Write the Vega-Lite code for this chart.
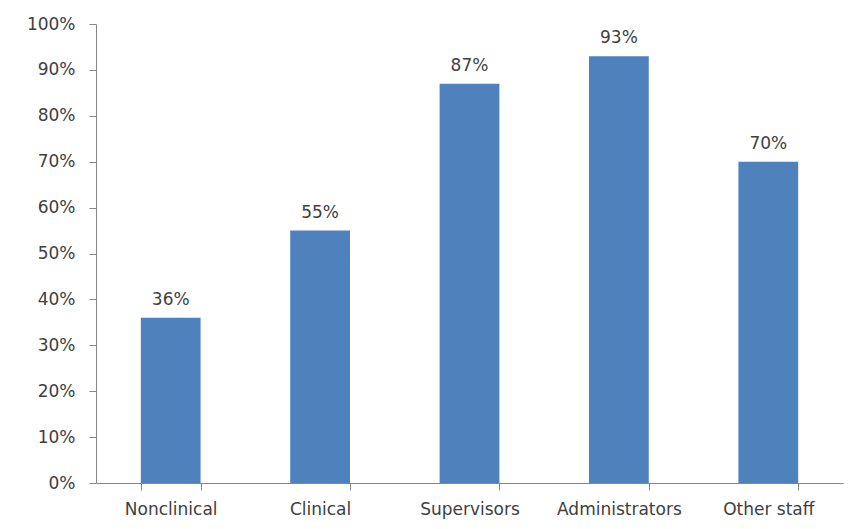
{
  "$schema": "https://vega.github.io/schema/vega-lite/v6.json",
  "width": 747,
  "height": 459,
  "autosize": {"type": "none"},
  "padding": {"left": 96, "top": 24, "right": 13, "bottom": 46},
  "background": "white",
  "config": {
    "view": {"stroke": null},
    "font": "DejaVu Sans",
    "axis": {"labelFont": "DejaVu Sans", "labelFontSize": 17, "labelColor": "#404040", "domainColor": "#868686", "tickColor": "#868686", "grid": false, "title": null}
  },
  "data": {"values": [
    {"group": "Nonclinical", "pct": 0.36},
    {"group": "Clinical", "pct": 0.55},
    {"group": "Supervisors", "pct": 0.87},
    {"group": "Administrators", "pct": 0.93},
    {"group": "Other staff", "pct": 0.70}
  ]},
  "encoding": {
    "x": {"field": "group", "type": "nominal", "sort": null,
      "scale": {"paddingInner": 0.6, "paddingOuter": 0.3},
      "axis": {"labelAngle": 0, "tickSize": 7, "tickBand": "extent", "labelPadding": 11, "labelBaseline": "top"}},
    "y": {"field": "pct", "type": "quantitative",
      "scale": {"domain": [0, 1], "nice": false},
      "axis": {"format": ".0%", "values": [0,0.1,0.2,0.3,0.4,0.5,0.6,0.7,0.8,0.9,1], "tickSize": 7, "labelPadding": 14}}
  },
  "layer": [
    {"mark": {"type": "bar", "color": "#4F81BD"}},
    {"mark": {"type": "text", "baseline": "alphabetic", "dy": -13, "fontSize": 17, "color": "#404040", "font": "DejaVu Sans"},
     "encoding": {"text": {"field": "pct", "type": "quantitative", "format": ".0%"}}}
  ]
}
